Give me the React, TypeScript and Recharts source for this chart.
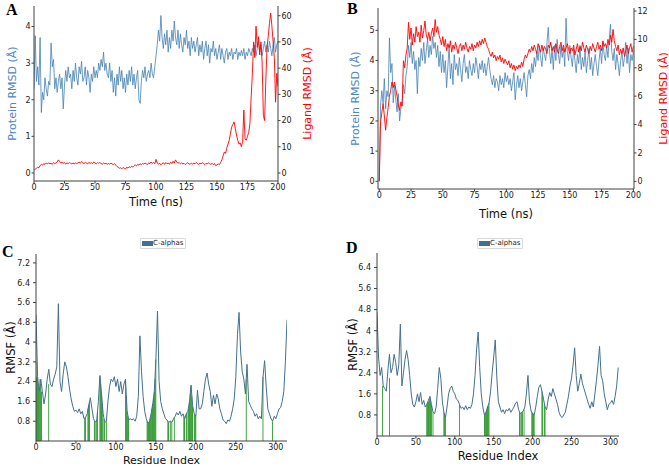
import React from 'react';
import { ComposedChart, Line, Bar, XAxis, YAxis, Legend } from 'recharts';

// ---------- DATA ----------
const timeNs: number[] = Array.from({ length: 201 }, (_, i) => i);
const timeTicks = [0, 25, 50, 75, 100, 125, 150, 175, 200];

const proteinA = [2.3,3.75,2.5,2.9,2.4,3.7,1.65,2.2,2.0,2.6,2.3,
2.1,2.5,2.4,3.55,2.9,3.1,2.3,2.6,2.2,2.5,
2.7,2.3,2.6,1.75,2.4,2.8,2.5,2.9,2.6,2.7,
2.3,2.8,2.5,3.0,2.6,2.4,2.9,2.7,3.05,2.5,
2.6,2.9,2.4,2.8,2.6,2.2,2.7,2.5,2.9,2.6,
2.8,2.6,3.0,2.8,3.1,2.9,3.3,2.8,3.0,2.7,
2.6,3.0,2.5,2.8,2.2,2.6,2.1,2.7,2.4,2.9,
2.5,2.8,2.3,2.6,2.2,2.7,2.4,2.8,2.5,2.9,
2.4,2.7,2.3,2.6,2.8,2.0,1.9,2.5,2.8,2.6,
2.9,2.5,2.7,2.8,2.6,3.0,2.7,2.6,2.9,3.2,
3.5,3.9,3.6,4.3,3.7,3.4,3.8,3.5,3.9,3.3,
3.7,3.4,3.9,3.6,4.15,3.7,3.5,3.9,3.4,3.8,
3.5,3.3,3.7,3.5,3.9,3.4,3.6,3.2,3.7,3.4,
3.6,3.3,3.5,3.7,3.2,3.5,3.3,3.6,3.1,3.4,
3.6,3.2,3.5,3.0,3.4,3.3,3.6,3.2,3.4,3.1,
3.3,3.5,3.1,3.4,3.2,3.0,3.3,3.4,3.1,3.3,
3.2,3.4,3.1,3.3,3.25,3.4,3.1,3.3,3.2,3.35,
3.2,3.4,3.1,3.3,3.2,3.4,3.3,3.2,3.4,3.3,
3.5,3.2,3.4,3.6,3.3,3.5,3.2,3.4,3.6,3.3,
3.5,3.3,3.6,3.4,3.2,3.5,3.7,3.3,3.5,3.6];

const ligandA = [1.0,1.5,1.8,2.2,2.0,2.8,3.2,3.0,3.6,3.3,3.8,
3.4,3.9,3.5,3.7,3.3,4.0,3.6,3.8,4.2,5.0,
4.3,3.8,4.1,3.7,3.9,3.5,3.8,3.6,4.0,3.7,
3.5,3.8,3.4,3.9,3.6,3.8,4.1,3.7,4.4,3.9,
3.6,4.0,3.8,3.5,4.1,3.7,3.9,3.6,4.2,3.8,
3.5,3.9,3.7,4.0,3.6,3.4,3.8,3.5,3.7,3.3,
3.6,3.4,3.7,3.5,3.2,3.6,3.0,2.5,2.2,1.8,
2.0,1.6,2.1,1.8,1.5,2.2,1.9,2.4,2.1,2.6,
2.3,2.8,3.1,2.7,3.3,3.0,3.5,3.2,3.6,3.4,
3.8,3.5,3.2,3.9,3.6,4.2,3.7,4.0,3.5,5.2,
3.8,3.4,3.7,3.1,3.6,3.9,3.3,4.0,3.5,3.8,
3.3,4.1,3.6,4.5,3.8,5.0,4.2,3.7,4.0,3.5,
3.9,3.4,3.7,3.2,3.6,3.9,3.5,3.3,3.8,3.4,
3.7,3.5,4.0,3.6,3.3,3.8,3.5,3.9,3.6,3.2,
3.7,3.4,3.9,3.5,3.3,3.7,3.2,3.6,2.8,3.1,
3.5,3.2,4.0,5.0,6.5,8.0,7.5,9.5,11.0,12.5,
15.0,17.5,18.5,19.5,17.0,14.5,12.5,11.0,11.5,10.0,
12.0,24.0,13.0,12.5,14.0,15.5,19.0,29.0,38.0,50.0,
44.0,56.0,48.0,52.0,45.0,50.0,42.0,22.0,20.0,35.0,
48.0,52.0,57.0,61.0,56.0,50.0,44.0,27.0,38.0,33.0];

const proteinB = [0.0,2.5,3.0,2.6,3.4,2.4,3.0,2.8,4.75,3.6,3.9,
2.6,3.2,2.7,2.3,2.9,2.0,2.4,2.6,3.2,2.9,
3.5,3.8,4.5,4.1,4.6,3.9,4.3,3.7,4.0,2.9,
4.1,3.8,4.4,4.0,4.6,3.9,4.3,4.7,4.1,4.5,
4.2,4.8,4.4,4.6,4.1,4.5,3.8,4.3,3.6,4.2,
3.6,4.0,3.1,3.8,4.5,3.4,3.9,3.2,4.2,3.7,
3.9,3.5,4.1,3.7,3.3,3.9,4.2,3.6,3.8,3.4,
4.0,3.7,3.5,3.9,3.6,4.1,3.8,3.4,3.9,3.7,
4.0,3.6,3.9,3.5,3.8,4.1,3.7,3.4,3.2,3.5,
3.1,3.4,3.3,3.0,3.5,3.2,3.4,3.1,3.6,3.3,
3.5,3.2,3.4,3.0,3.3,3.6,2.7,3.2,3.5,3.1,
3.4,3.0,3.3,3.6,3.2,2.8,3.5,3.7,3.4,3.9,
3.6,4.1,3.8,4.3,4.0,4.5,4.1,3.8,4.4,4.2,
4.0,4.6,5.1,4.3,3.9,4.4,3.7,4.5,4.0,4.7,
4.2,3.9,4.5,4.1,4.4,3.8,5.4,4.3,4.0,4.5,
4.1,3.8,4.4,4.0,3.6,4.2,3.9,4.5,3.7,4.1,
3.8,4.3,3.6,4.0,4.4,3.7,4.1,3.5,3.9,4.2,
3.8,3.5,4.0,4.4,3.9,4.6,4.2,4.0,4.5,4.1,
4.7,5.2,4.3,4.0,4.4,3.7,4.2,3.9,3.5,4.0,
4.3,3.8,4.1,4.6,3.9,4.4,3.6,4.2,4.0,4.3];

const ligandB = [0.0,4.2,4.8,5.5,4.6,3.6,4.5,5.2,6.0,6.4,7.0,
6.6,7.0,6.5,6.0,5.4,5.0,5.6,5.3,8.5,8.0,
8.9,9.4,11.2,10.0,10.8,9.6,10.4,9.8,10.9,10.2,
10.5,9.8,11.0,10.1,10.6,11.3,10.3,10.0,10.5,9.9,
10.4,10.8,10.2,11.4,10.5,10.9,10.3,10.0,9.6,10.2,
9.5,10.0,9.2,9.7,9.4,9.9,9.1,9.6,9.3,9.8,
9.4,9.0,9.5,9.7,9.2,9.6,9.3,9.8,9.4,9.1,
9.5,9.3,9.7,9.2,9.6,9.4,9.8,9.5,9.9,9.6,
10.0,9.7,10.1,9.8,9.5,9.3,9.0,8.8,9.1,8.7,
8.9,8.5,8.8,8.6,8.9,8.4,8.7,8.3,8.6,8.4,
8.2,8.5,8.0,8.3,7.9,8.2,7.8,8.1,7.9,8.2,
8.0,8.4,8.1,8.6,8.9,8.7,9.0,9.3,9.1,9.5,
9.2,9.6,9.3,9.0,9.7,9.4,9.1,9.6,9.2,9.5,
9.3,9.0,9.6,9.4,9.8,9.2,9.5,9.1,9.7,9.3,
9.0,9.5,9.8,9.2,9.6,9.1,9.4,9.7,9.3,9.0,
9.4,9.2,9.6,8.9,9.3,9.7,9.1,9.5,9.2,9.8,
9.4,9.1,9.6,9.3,9.0,9.5,9.2,9.7,9.4,9.1,
9.5,9.8,9.3,9.6,9.2,9.9,9.5,9.7,9.4,10.0,
9.6,10.3,9.8,10.7,9.9,9.5,9.2,9.6,8.9,9.3,
9.0,9.4,8.8,9.2,9.6,9.0,9.4,9.7,9.1,9.5];

const residueTicks = [0, 50, 100, 150, 200, 250, 300];
const residuesC: number[] = Array.from({ length: 158 }, (_, i) => i * 2);
const rmsfC = [5.1,2.6,2.0,2.5,2.0,1.5,1.9,2.5,2.9,2.3,
2.2,2.5,2.7,3.0,5.55,2.4,2.0,2.7,3.2,3.0,
2.6,2.1,1.7,1.4,1.2,1.25,1.15,1.3,1.1,1.2,
0.9,0.95,1.1,1.45,1.75,1.3,0.9,0.75,0.85,1.6,
2.65,1.9,1.1,0.75,0.8,1.6,2.2,2.5,2.4,2.6,
2.2,2.5,2.0,2.4,1.9,2.3,2.5,1.2,0.85,0.9,
0.85,0.9,0.8,1.0,1.8,4.25,2.8,1.8,1.2,0.9,
0.7,0.8,1.1,1.5,2.0,3.3,5.25,2.4,1.6,1.3,
1.1,0.9,0.85,0.75,0.8,0.75,0.9,1.0,1.15,1.05,
1.2,1.0,1.1,0.9,1.1,1.2,1.6,2.25,1.4,1.1,
1.0,2.05,1.3,1.3,1.5,2.0,2.5,2.75,2.3,2.0,
1.4,1.85,1.5,1.9,1.7,1.3,1.1,0.85,0.8,0.7,
0.85,0.8,1.0,1.3,1.7,2.6,4.3,5.2,3.6,2.8,
2.5,1.9,3.1,1.6,1.45,1.3,1.2,1.0,1.1,0.9,
1.0,0.9,2.6,3.25,2.2,1.3,1.1,0.9,0.8,1.0,
0.9,1.1,1.3,1.35,1.6,2.0,3.2,4.9];
const contactResC = [0,1,2,3,4,5,6,7,16,61,62,65,66,67,73,74,76,77,80,81,82,83,85,86,88,
112,113,114,115,116,139,140,141,142,143,144,145,146,147,148,149,150,
165,166,168,170,173,185,186,188,189,191,192,193,194,195,196,198,199,200,263,284,296];
const contactHC = [3.2,2.6,2.6,2.2,2.0,2.5,2.3,2.0,2.3,0.9,0.95,1.3,1.45,1.6,0.8,0.75,0.85,1.2,2.6,2.3,1.9,1.5,0.9,0.75,0.8,
2.5,1.8,1.2,1.0,0.85,0.8,0.7,0.75,0.8,0.95,1.1,1.3,1.5,1.7,2.0,2.5,3.3,
0.8,0.75,0.8,0.75,0.95,1.0,0.9,1.1,1.15,1.3,1.6,1.9,2.25,1.8,1.4,1.1,1.05,1.0,2.5,2.6,0.8];

const residuesD: number[] = Array.from({ length: 156 }, (_, i) => i * 2);
const rmsfD = [4.7,3.0,2.3,2.6,1.9,1.8,1.7,2.5,3.1,2.4,
2.6,3.1,2.8,2.3,2.7,4.25,1.9,2.4,2.9,3.25,
2.9,2.3,1.6,1.2,1.1,1.3,1.6,1.3,1.65,1.2,
1.35,1.1,1.2,1.35,1.5,1.2,0.9,0.85,1.1,1.8,
2.6,2.2,1.3,0.9,0.7,1.1,1.6,1.8,1.9,1.7,
1.6,1.4,1.35,1.2,1.05,1.1,1.0,1.15,1.0,1.1,
1.05,1.2,1.6,2.3,3.3,3.95,2.6,1.6,1.1,0.8,
0.9,1.1,1.25,1.7,2.4,3.0,3.65,2.2,1.3,1.1,
0.9,1.0,0.85,1.0,0.95,1.05,0.9,1.0,1.1,1.25,
1.3,1.0,0.85,0.9,0.95,1.1,1.6,2.3,1.3,0.95,
0.85,0.8,1.1,1.5,1.85,1.95,1.7,1.4,1.1,1.0,
1.4,1.65,1.5,1.8,1.6,1.4,1.2,0.9,0.75,0.7,
0.8,0.9,1.2,1.5,1.9,2.2,2.7,3.35,2.3,1.7,
2.0,2.35,2.0,1.8,1.6,1.4,1.2,1.05,1.3,1.1,
1.6,2.1,2.7,3.4,2.3,2.1,1.6,1.3,1.0,1.2,
1.25,1.35,1.2,1.5,1.9,2.6];
const contactResD = [7,16,64,65,66,67,68,69,70,72,86,87,88,106,138,139,140,141,142,143,144,
183,184,186,187,189,199,200,201,202,212,213,215,216];
const contactHD = [1.9,2.2,1.2,1.25,1.3,1.4,1.5,1.4,1.2,0.9,0.9,0.8,0.7,1.2,0.8,0.85,0.9,1.0,1.1,1.15,1.25,
0.9,0.85,0.9,0.9,1.0,0.9,0.85,0.85,0.8,1.7,1.55,1.2,1.1];

// ---------- BUILD ----------
const dataA = timeNs.map((t, i) => ({ t, protein: proteinA[i], ligand: ligandA[i] }));
const dataB = timeNs.map((t, i) => ({ t, protein: proteinB[i], ligand: ligandB[i] }));

function buildRmsf(res: number[], vals: number[], cRes: number[], cH: number[]) {
  const map = new Map<number, any>();
  res.forEach((r, i) => map.set(r, { r, rmsf: vals[i] }));
  cRes.forEach((r, i) => {
    const o = map.get(r) || { r };
    o.contact = cH[i];
    map.set(r, o);
  });
  return Array.from(map.values()).sort((a, b) => a.r - b.r);
}
const dataC = buildRmsf(residuesC, rmsfC, contactResC, contactHC);
const dataD = buildRmsf(residuesD, rmsfD, contactResD, contactHD);

// ---------- STYLE ----------
const W = 669, H = 467;
const FONT = "'DejaVu Sans', sans-serif";
const AXIS = '#404040';
const TICK = { fontSize: 8, fill: '#222', fontFamily: FONT };
const BLUE = '#4682b4';
const RED = '#ff0000';
const RMSF_COLOR = '#44708f';
const GREEN = '#008000';

const titleStyle = (fill: string, size = 11) => ({ fontSize: size, fill, fontFamily: FONT, textAnchor: 'middle' as const });

const Letter = ({ ch, left, top }: { ch: string; left: number; top: number }) => (
  <div style={{ position: 'absolute', left, top, fontFamily: "'Liberation Serif', serif", fontWeight: 'bold', fontSize: 16, lineHeight: '16px', color: '#000' }}>{ch}</div>
);

const LegendBox = () => (
  <div style={{ display: 'inline-flex', alignItems: 'center', border: '1px solid #d8d8d8', borderRadius: 1, padding: '1px 2px 1px 1px', background: '#fff', fontFamily: FONT, fontSize: 7, lineHeight: '7px', color: '#222' }}>
    <span style={{ display: 'inline-block', width: 11, height: 5, background: RMSF_COLOR, marginRight: 0 }} />
    C-alphas
  </div>
);

const abs: React.CSSProperties = { position: 'absolute', left: 0, top: 0 };

function RmsdChart({ data, margin, xDom, lDom, lTicks, rDom, rTicks, xH, xOff, lOff, rOff }: any) {
  return (
    <div style={abs}>
      <ComposedChart width={W} height={H} data={data} margin={margin}>
        <XAxis dataKey="t" type="number" domain={xDom} ticks={timeTicks} allowDataOverflow height={xH}
          tickSize={2.5} tickMargin={1} tick={TICK} stroke={AXIS} interval={0}
          label={{ value: 'Time (ns)', position: 'insideBottom', offset: xOff, style: titleStyle('#111', 11.5) }} />
        <XAxis xAxisId="top" orientation="top" dataKey="t" type="number" domain={xDom} allowDataOverflow height={0}
          tick={false} tickLine={false} axisLine={{ stroke: AXIS }} />
        <YAxis yAxisId="l" type="number" domain={lDom} ticks={lTicks} allowDataOverflow width={30}
          tickSize={2.5} tickMargin={1} tick={TICK} stroke={AXIS} interval={0}
          label={{ value: 'Protein RMSD (Å)', angle: -90, position: 'insideLeft', offset: lOff, style: titleStyle('#4a86c0') }} />
        <YAxis yAxisId="r" orientation="right" type="number" domain={rDom} ticks={rTicks} allowDataOverflow width={30}
          tickSize={2.5} tickMargin={1} tick={TICK} stroke={AXIS} interval={0}
          label={{ value: 'Ligand RMSD (Å)', angle: -90, position: 'insideRight', offset: rOff, style: titleStyle(RED) }} />
        <Line yAxisId="l" dataKey="protein" stroke={BLUE} strokeWidth={0.9} strokeOpacity={0.9} dot={false} isAnimationActive={false} />
        <Line yAxisId="r" dataKey="ligand" stroke={RED} strokeWidth={0.9} dot={false} isAnimationActive={false} />
      </ComposedChart>
    </div>
  );
}

function RmsfChart({ data, margin, xDom, yDom, yTicks, xH, xOff, yOff, legendLeft, legendTop, labelSize }: any) {
  return (
    <div style={abs}>
      <ComposedChart width={W} height={H} data={data} margin={margin}>
        <XAxis dataKey="r" type="number" domain={xDom} ticks={residueTicks} allowDataOverflow height={xH}
          tickSize={2.5} tickMargin={1} tick={TICK} stroke={AXIS} interval={0}
          label={{ value: 'Residue Index', position: 'insideBottom', offset: xOff, style: titleStyle('#111', labelSize) }} />
        <XAxis xAxisId="top" orientation="top" dataKey="r" type="number" domain={xDom} allowDataOverflow height={0}
          tick={false} tickLine={false} axisLine={{ stroke: AXIS }} />
        <YAxis type="number" domain={yDom} ticks={yTicks} allowDataOverflow width={30}
          tickSize={3} tickMargin={3} tick={TICK} stroke={AXIS} interval={0}
          label={{ value: 'RMSF (Å)', angle: -90, position: 'insideLeft', offset: yOff, style: titleStyle('#111', 11.5) }} />
        <YAxis yAxisId="rr" orientation="right" type="number" domain={[0, 1]} width={0}
          tick={false} tickLine={false} axisLine={{ stroke: AXIS }} />
        <Legend layout="horizontal" verticalAlign="middle" align="center"
          wrapperStyle={{ left: legendLeft, top: legendTop, width: 'auto', height: 'auto' }}
          content={() => <LegendBox />} />
        <Bar dataKey="contact" fill={GREEN} barSize={1.3} isAnimationActive={false} />
        <Line dataKey="rmsf" stroke={RMSF_COLOR} strokeWidth={1} dot={false} connectNulls isAnimationActive={false} />
      </ComposedChart>
    </div>
  );
}

export default function App() {
  return (
    <div style={{ position: 'absolute', left: 0, top: 0, width: W, height: H, background: '#fff', overflow: 'hidden' }}>
      <RmsdChart data={dataA} margin={{ top: 6, left: 4, right: 361, bottom: 258 }}
        xDom={[0, 200]} lDom={[-0.22, 4.56]} lTicks={[0, 1, 2, 3, 4]}
        rDom={[-3.05, 63.7]} rTicks={[0, 10, 20, 30, 40, 50, 60]} xH={28} xOff={3} lOff={8} rOff={1.3} />
      <RmsdChart data={dataB} margin={{ top: 8, left: 348, right: 5, bottom: 246 }}
        xDom={[-1, 200.5]} lDom={[-0.255, 5.74]} lTicks={[0, 1, 2, 3, 4, 5]}
        rDom={[-0.54, 12.21]} rTicks={[0, 2, 4, 6, 8, 10, 12]} xH={32} xOff={3} lOff={7} rOff={1} />
      <RmsfChart data={dataC} margin={{ top: 254, left: 6, right: 382, bottom: 0 }}
        xDom={[0, 314]} yDom={[0, 7.56]} yTicks={[0.8, 1.6, 2.4, 3.2, 4.0, 4.8, 5.6, 6.4, 7.2]}
        xH={26} xOff={3} yOff={5} legendLeft={140} legendTop={232} labelSize={11} />
      <RmsfChart data={dataD} margin={{ top: 253, left: 347, right: 50, bottom: 0 }}
        xDom={[0, 311]} yDom={[0, 6.95]} yTicks={[0.8, 1.6, 2.4, 3.2, 4.0, 4.8, 5.6, 6.4]}
        xH={31} xOff={7} yOff={5.5} legendLeft={477} legendTop={232} labelSize={11.5} />
      <Letter ch="A" left={6} top={2} />
      <Letter ch="B" left={347} top={1} />
      <Letter ch="C" left={2} top={244} />
      <Letter ch="D" left={346} top={240} />
    </div>
  );
}
